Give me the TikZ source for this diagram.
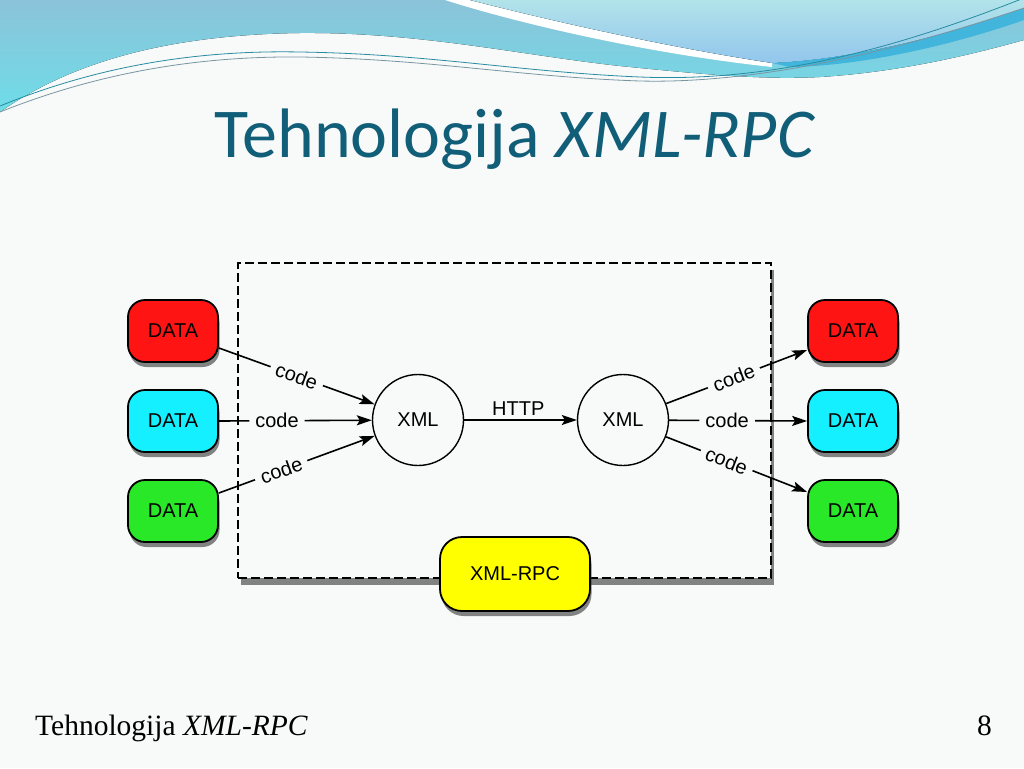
\documentclass[tikz,border=0pt]{standalone}
\usepackage{fontspec}
\setmainfont{Liberation Sans}
\newfontfamily\titlefont{Carlito}
\newfontfamily\footfont{Liberation Serif}
\usetikzlibrary{arrows.meta,shadows,shapes.misc}
\definecolor{bg}{RGB}{248,249,249}
\definecolor{ttl}{RGB}{17,94,120}
\definecolor{cyA}{RGB}{139,195,217}
\definecolor{cyB}{RGB}{110,221,232}
\definecolor{paleA}{RGB}{178,227,234}
\definecolor{paleB}{RGB}{146,198,236}
\definecolor{bandD}{RGB}{65,181,220}
\definecolor{dred}{RGB}{255,20,20}
\definecolor{dcyan}{RGB}{20,240,255}
\definecolor{dgreen}{RGB}{40,232,40}
\definecolor{dyellow}{RGB}{255,255,0}
\tikzset{
  dfont/.style={font=\fontsize{20}{24}\selectfont},
  databox/.style={draw=black, line width=1.8pt, rounded corners=17pt,
    minimum width=90pt, minimum height=62pt, inner sep=0pt, dfont,
    drop shadow={shadow xshift=1.5pt, shadow yshift=-5pt, opacity=.6, fill=black!80}},
  xmlcirc/.style={circle, draw=black, line width=1.4pt, fill=bg, minimum size=91pt,
    inner sep=0pt, dfont},
  link/.style={line width=1.6pt, -{Stealth[length=15pt,width=10pt,inset=3pt]}},
  codelbl/.style={fill=bg, inner xsep=6pt, inner ysep=1pt, sloped, dfont},
  thinline/.style={line width=0.8pt}
}
\begin{document}
\begin{tikzpicture}[x=1pt,y=-1pt]
\useasboundingbox (0,0) rectangle (1024,768);
\fill[bg] (0,0) rectangle (1024,768);
% ---- top banner
\fill[top color=cyA, bottom color=cyB] (0,0) -- (1024,0) -- (1024,40)
  .. controls (970,55) and (900,72) .. (820,77)
  .. controls (760,80) and (700,74) .. (620,66)
  .. controls (520,55) and (420,32) .. (300,33)
  .. controls (150,35) and (60,70) .. (0,112) -- cycle;
\fill[white] (445,0) .. controls (520,24) and (650,54) .. (772,67)
  -- (772,63) .. controls (660,46) and (540,18) .. (470,0) -- cycle;
\fill[top color=paleA, bottom color=paleB] (470,0) .. controls (540,18) and (660,46) .. (772,63)
  .. controls (850,60) and (950,35) .. (1024,8) -- (1024,0) -- cycle;
\fill[bandD] (772,63) .. controls (850,60) and (950,35) .. (1024,8) -- (1024,20)
  .. controls (950,46) and (860,66) .. (790,67) -- cycle;
\draw[thinline, draw={rgb,255:red,40;green,140;blue,160}] (0,106) .. controls (100,65) and (200,50) .. (300,52)
  .. controls (430,54) and (520,72) .. (640,77) .. controls (760,82) and (880,55) .. (1024,-2);
\draw[thinline, draw={rgb,255:red,120;green,150;blue,160}] (0,112) .. controls (100,72) and (200,56) .. (300,57)
  .. controls (430,59) and (520,77) .. (640,81) .. controls (760,84) and (900,50) .. (1024,8);
% ---- title
\node (title) [anchor=base, text=ttl, font=\titlefont\fontsize{70}{80}\selectfont, inner sep=0pt]
  at (515,157) {Tehnologija \textit{XML-RPC}};
% ---- frame
\node (frame) [draw=black, line width=1.8pt, dash pattern=on 9pt off 4pt, fill=bg,
  minimum width=533pt, minimum height=315pt, inner sep=0pt,
  drop shadow={shadow xshift=2.5pt, shadow yshift=-7pt, opacity=.6, fill=black!80}]
  at (504.5,420.5) {};
% ---- data boxes
\node (dl1) [databox, fill=dred]   at (173,331) {DATA};
\node (dl2) [databox, fill=dcyan]  at (173,421) {DATA};
\node (dl3) [databox, fill=dgreen] at (173,511) {DATA};
\node (dr1) [databox, fill=dred]   at (853,331) {DATA};
\node (dr2) [databox, fill=dcyan]  at (853,421) {DATA};
\node (dr3) [databox, fill=dgreen] at (853,511) {DATA};
% ---- xml circles
\node (xl) [xmlcirc] at (418,420) {XML};
\node (xr) [xmlcirc] at (623,420) {XML};
% ---- arrows
\draw[link] ([yshift=-17pt]dl1.east) -- node[codelbl, pos=.5] {code} (xl);
\draw[link] (dl2.east) -- node[codelbl, pos=.38] {code} (xl);
\draw[link] ([yshift=18pt]dl3.east) -- node[codelbl, pos=.4] {code} (xl);
\draw[link] (xl) -- node[above=0pt, dfont, pos=.48] {HTTP} (xr);
\draw[link] (xr) -- node[codelbl, pos=.48] {code} ([yshift=-19pt]dr1.west);
\draw[link] (xr) -- node[codelbl, pos=.42] {code} (dr2.west);
\draw[link] (xr) -- node[codelbl, pos=.43] {code} ([yshift=19pt]dr3.west);
% ---- xml-rpc box
\node (rpc) [databox, fill=dyellow, rounded corners=22pt, minimum width=150pt, minimum height=74pt]
  at (515,574) {XML-RPC};
% ---- footer
\node (foot) [anchor=base west, inner sep=0pt, font=\footfont\fontsize{29.5}{34}\selectfont]
  at (35,735) {Tehnologija \textit{XML-RPC}};
\node (pnum) [anchor=base east, inner sep=0pt, font=\footfont\fontsize{29.5}{34}\selectfont]
  at (992,735) {8};
\end{tikzpicture}
\end{document}
